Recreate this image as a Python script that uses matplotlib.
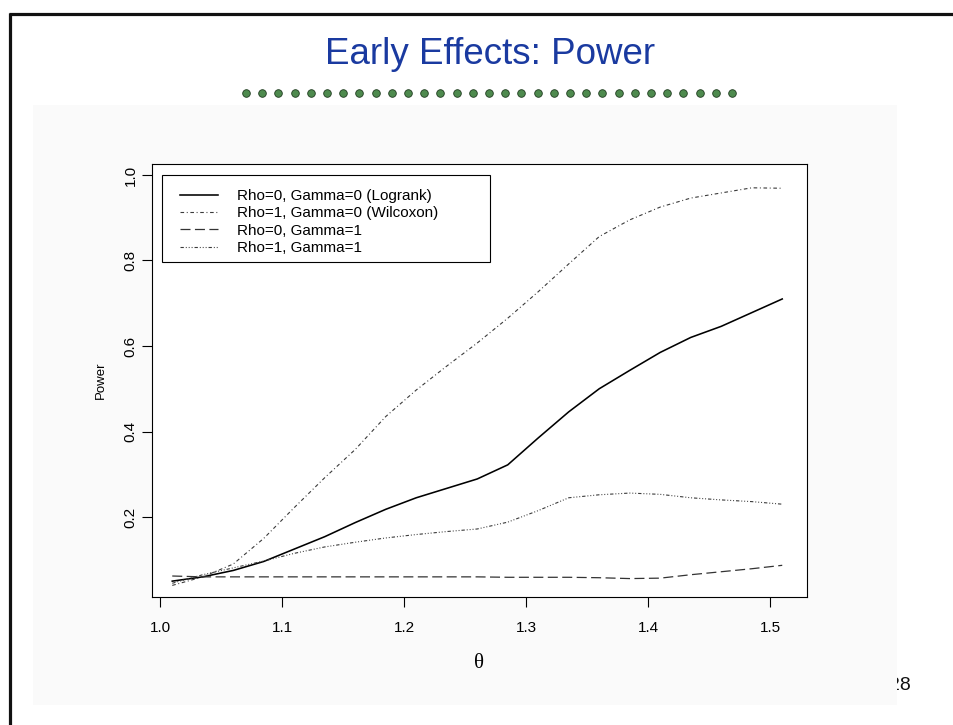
import numpy as np
import matplotlib
matplotlib.use("Agg")
import matplotlib.pyplot as plt
from matplotlib.patches import Rectangle

plt.rcParams["font.family"] = ["Liberation Sans", "DejaVu Sans"]
plt.rcParams["lines.scale_dashes"] = False

# Effect size (theta) and simulated power of the four weighted log-rank tests
theta = [1.010, 1.035, 1.060, 1.085, 1.110, 1.135, 1.160, 1.185, 1.210, 1.235,
         1.260, 1.285, 1.310, 1.335, 1.360, 1.385, 1.410, 1.435, 1.460, 1.485, 1.510]

power_logrank = [0.050, 0.060, 0.075, 0.096, 0.125, 0.154, 0.187, 0.218, 0.245, 0.267,
                 0.289, 0.322, 0.385, 0.446, 0.500, 0.543, 0.585, 0.620, 0.646, 0.678, 0.710]
power_wilcoxon = [0.040, 0.060, 0.090, 0.150, 0.222, 0.292, 0.358, 0.435, 0.497, 0.553,
                  0.607, 0.665, 0.727, 0.792, 0.856, 0.895, 0.925, 0.946, 0.958, 0.970, 0.969]
power_r0_g1 = [0.062, 0.060, 0.060, 0.060, 0.060, 0.060, 0.060, 0.060, 0.060, 0.060,
               0.060, 0.059, 0.059, 0.059, 0.058, 0.056, 0.057, 0.065, 0.072, 0.079, 0.087]
power_r1_g1 = [0.045, 0.065, 0.081, 0.097, 0.115, 0.130, 0.141, 0.151, 0.159, 0.166,
               0.172, 0.188, 0.215, 0.245, 0.252, 0.256, 0.253, 0.245, 0.240, 0.236, 0.230]

labels = ["Rho=0, Gamma=0 (Logrank)", "Rho=1, Gamma=0 (Wilcoxon)",
          "Rho=0, Gamma=1", "Rho=1, Gamma=1"]
x_ticks = [1.0, 1.1, 1.2, 1.3, 1.4, 1.5]
y_ticks = [0.2, 0.4, 0.6, 0.8, 1.0]

W, H = 954, 725
fig = plt.figure(figsize=(W / 100, H / 100), dpi=100)
fig.patch.set_facecolor("white")

# Slide background: frame, panel, title, dotted rule, page number
bg = fig.add_axes([0, 0, 1, 1])
bg.set_xlim(0, W)
bg.set_ylim(H, 0)
bg.axis("off")
bg.text(889, 686, "28", fontsize=14, ha="left", va="center", color="#111111", zorder=1)
bg.add_patch(Rectangle((33, 105), 864, 600, facecolor="#fafafa", edgecolor="none", zorder=2))
bg.plot([9, W], [14, 14], color="#111111", lw=2.3, solid_capstyle="butt", zorder=3)
bg.plot([10, 10], [13, H], color="#111111", lw=2.3, solid_capstyle="butt", zorder=3)
bg.text(490, 54, "Early Effects: Power", fontsize=26.5, color="#1a3aa0",
        ha="center", va="center", zorder=3)
n_dots = 31
bg.scatter(np.linspace(246, 732, n_dots), np.full(n_dots, 93), s=30,
           color="#4e8a4e", edgecolors="#1e3a1e", linewidths=0.6, zorder=3)

# Power curves
ax = fig.add_axes([152 / W, 1 - 597 / H, 655 / W, 433 / H])
ax.set_facecolor("white")
ax.plot(theta, power_logrank, color="black", lw=1.15, label=labels[0])
ax.plot(theta, power_wilcoxon, color="#3a3a3a", lw=0.8,
        linestyle=(0, (2.6, 1.9, 0.7, 1.9)), label=labels[1])
ax.plot(theta, power_r0_g1, color="#333333", lw=0.9,
        linestyle=(0, (7.2, 3.2)), label=labels[2])
ax.plot(theta, power_r1_g1, color="#3a3a3a", lw=0.8,
        linestyle=(0, (2.4, 1.4, 0.7, 1.4, 0.7, 1.4, 0.7, 1.4)), label=labels[3])

ax.set_xlim(0.9934, 1.5303)
ax.set_ylim(0.0129, 1.0257)
ax.set_xticks(x_ticks)
ax.set_xticklabels([f"{v:.1f}" for v in x_ticks])
ax.set_yticks(y_ticks)
ax.set_yticklabels([f"{v:.1f}" for v in y_ticks], rotation=90, va="center")
ax.tick_params(axis="both", direction="out", length=7.2, width=0.8, labelsize=11,
               colors="black")
ax.tick_params(axis="x", pad=10)
ax.tick_params(axis="y", pad=3)
for s in ax.spines.values():
    s.set_linewidth(0.8)
    s.set_color("black")

ax.set_ylabel("Power", fontsize=9.5, labelpad=12)
ax.set_xlabel("\u03b8", fontsize=15, family=["Liberation Serif", "DejaVu Serif"], labelpad=14)

# Legend entries, with a wide rectangular frame drawn around them
leg = ax.legend(loc="upper left", bbox_to_anchor=(0.0427, 0.942),
                fontsize=11, frameon=False,
                handlelength=2.49, handletextpad=1.22, labelspacing=0.22,
                borderpad=0.0, borderaxespad=0.0)
ax.add_patch(Rectangle((0.0148, 0.7737), 0.5012, 0.2009, transform=ax.transAxes,
                       facecolor="none", edgecolor="black", lw=0.8, zorder=5))

fig.savefig("out.png", dpi=100, facecolor="white")
